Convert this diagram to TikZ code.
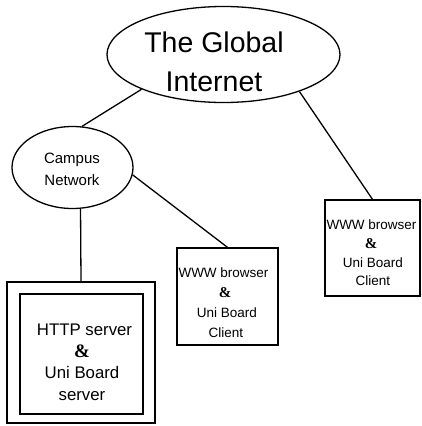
\documentclass[tikz,border=0pt]{standalone}
\usepackage{fontspec}
\setmainfont{Liberation Sans}
\newfontfamily\ampfont{Liberation Serif}
\usetikzlibrary{shapes.geometric}
\tikzset{
  line/.style={line width=1.3pt},
  oval/.style={ellipse, draw, line width=1.3pt, inner sep=0pt},
  box/.style={draw, line width=1.3pt, inner sep=0pt},
  txt/.style={anchor=base, inner sep=0pt},
  amp/.style={anchor=base, inner sep=0pt, font=\ampfont\bfseries\fontsize{#1}{#1}\selectfont},
}
\begin{document}
\begin{tikzpicture}[x=1pt, y=-1pt]
\useasboundingbox (0,0) rectangle (421,426);
% ellipses
\node[oval, minimum width=233pt, minimum height=96pt] (inet) at (223.5,54.5) {};
\node[oval, minimum width=121pt, minimum height=82pt] (campus) at (72.5,167.5) {};
% boxes
\node[box, minimum width=95pt, minimum height=96pt] (rbox) at (372.5,248) {};
\node[box, minimum width=101pt, minimum height=97pt] (mbox) at (227.5,296.5) {};
\node[box, minimum width=148pt, minimum height=141pt] (outer) at (81,352.5) {};
\node[box, minimum width=123pt, minimum height=120pt] (inner) at (81.5,354) {};
% texts
\node[txt, font=\fontsize{28.5}{28.5}\selectfont] (t1) at (214,52) {The Global};
\node[txt, font=\fontsize{28.5}{28.5}\selectfont] (t2) at (214,91) {Internet};
\node[txt, font=\fontsize{15}{15}\selectfont] (c1) at (72,163) {Campus};
\node[txt, font=\fontsize{15}{15}\selectfont] (c2) at (72,185) {Network};
% server box
\node[txt, font=\fontsize{16.8}{16.8}\selectfont] (s1) at (84.5,335) {HTTP server};
\node[amp=19] (s2) at (82,357) {\&};
\node[txt, font=\fontsize{16.8}{16.8}\selectfont] (s3) at (82,378) {Uni Board};
\node[txt, font=\fontsize{16.8}{16.8}\selectfont] (s4) at (82,400) {server};
% middle client box
\node[txt, font=\fontsize{13.5}{13.5}\selectfont] (m1) at (223.5,277) {WWW browser};
\node[amp=15] (m2) at (225,297) {\&};
\node[txt, font=\fontsize{13.5}{13.5}\selectfont] (m3) at (227,317) {Uni Board};
\node[txt, font=\fontsize{13.5}{13.5}\selectfont] (m4) at (226,337) {Client};
% right client box
\node[txt, font=\fontsize{13.5}{13.5}\selectfont] (r1) at (371.5,229) {WWW browser};
\node[amp=15] (r2) at (371,248) {\&};
\node[txt, font=\fontsize{13.5}{13.5}\selectfont] (r3) at (373,267) {Uni Board};
\node[txt, font=\fontsize{13.5}{13.5}\selectfont] (r4) at (373,285) {Client};
% connectors
\draw[line] (inet.203.5) -- (campus.77);
\draw[line] (inet.334.2) -- (rbox.north);
\draw[line] (campus.353) -- (mbox.north);
\draw[line] (campus.281.8) -- (outer.north);
\end{tikzpicture}
\end{document}
